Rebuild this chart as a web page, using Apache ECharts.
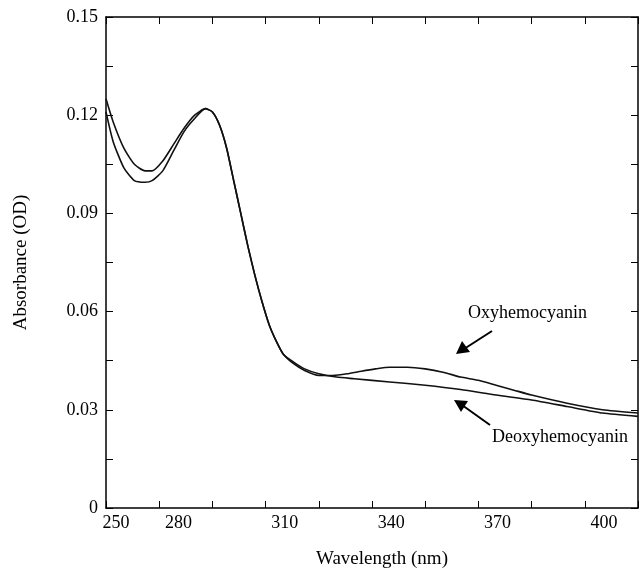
<!DOCTYPE html>
<html>
<head>
<meta charset="utf-8">
<script src="https://cdn.jsdelivr.net/npm/echarts@6/dist/echarts.min.js"></script>
<style>html,body{margin:0;background:#fff}#chart{width:642px;height:577px}</style>
</head>
<body>
<div id="chart"></div>
<script>
// wavelength (nm) / absorbance (OD)
const oxyWavelength = [250, 252, 255, 258, 261, 263, 266, 269, 272, 275, 278, 280, 282, 284, 286, 288, 290, 292, 294, 296, 298, 300, 303, 306, 310, 314, 318, 322, 326, 330, 335, 340, 345, 350, 355, 360, 365, 370, 380, 390, 400];
const oxyValues     = [0.125, 0.118, 0.110, 0.105, 0.103, 0.103, 0.106, 0.111, 0.116, 0.120, 0.122, 0.121, 0.117, 0.110, 0.100, 0.090, 0.080, 0.071, 0.063, 0.056, 0.051, 0.047, 0.044, 0.042, 0.0405, 0.0405, 0.041, 0.0418, 0.0425, 0.043, 0.043, 0.0425, 0.0415, 0.040, 0.039, 0.0375, 0.036, 0.0345, 0.032, 0.030, 0.029];
const deoxyWavelength = [250, 252, 255, 258, 261, 263, 266, 269, 272, 275, 278, 280, 282, 284, 286, 288, 290, 292, 294, 296, 298, 300, 303, 306, 310, 315, 320, 330, 340, 350, 360, 370, 380, 390, 400];
const deoxyValues     = [0.121, 0.112, 0.104, 0.100, 0.0995, 0.100, 0.103, 0.109, 0.115, 0.119, 0.122, 0.121, 0.117, 0.110, 0.100, 0.090, 0.080, 0.071, 0.063, 0.056, 0.051, 0.047, 0.0445, 0.0425, 0.041, 0.040, 0.0395, 0.0385, 0.0375, 0.0362, 0.0345, 0.033, 0.031, 0.029, 0.028];
const xLabels = [250, 280, 310, 340, 370, 400];
const yLabels = [0, 0.03, 0.06, 0.09, 0.12, 0.15];

const chart = echarts.init(document.getElementById('chart'));
const font = 'Liberation Serif';
const zip = (xs, ys) => xs.map((x, i) => [x, ys[i]]);
const lineStyle = { color: '#111', width: 1.6 };
const axisLine = { show: true, onZero: false, lineStyle: { color: '#000', width: 1.5 } };
const tick = { inside: true, length: 7, lineStyle: { color: '#000' } };

chart.setOption({
    animation: false,
    grid: { left: 106, right: 4, top: 17, bottom: 69 },
    xAxis: [{
        type: 'value', min: 250, max: 400, interval: 15,
        name: 'Wavelength (nm)', nameLocation: 'middle', nameGap: 42,
        nameTextStyle: { fontFamily: font, fontSize: 19, color: '#000', padding: [0, 0, 0, 20] },
        axisLine: axisLine, axisTick: tick, splitLine: { show: false },
        axisLabel: {
            margin: 6, showMaxLabel: true,
            formatter: v => xLabels.includes(Math.round(v)) ? (Math.round(v) === 250 ? '{a|250}' : '{b|' + Math.round(v) + '}') : '',
            rich: {
                a: { fontFamily: font, fontSize: 18, color: '#000', padding: [0, 0, 0, 20] },
                b: { fontFamily: font, fontSize: 18, color: '#000', padding: [0, 68, 0, 0] }
            }
        }
    }, {
        type: 'value', min: 250, max: 400, interval: 15, position: 'top',
        axisLine: axisLine, axisTick: tick, axisLabel: { show: false }, splitLine: { show: false }
    }],
    yAxis: [{
        type: 'value', min: 0, max: 0.15, interval: 0.015,
        name: 'Absorbance (OD)', nameLocation: 'middle', nameGap: 75,
        nameTextStyle: { fontFamily: font, fontSize: 19, color: '#000' },
        axisLine: axisLine, axisTick: tick, splitLine: { show: false },
        axisLabel: {
            fontFamily: font, fontSize: 18, color: '#000', margin: 8,
            formatter: v => {
                const r = Math.round(v * 1000) / 1000;
                return yLabels.includes(r) ? (r === 0 ? '0' : r.toFixed(2)) : '';
            }
        }
    }, {
        type: 'value', min: 0, max: 0.15, interval: 0.015, position: 'right',
        axisLine: axisLine, axisTick: tick, axisLabel: { show: false }, splitLine: { show: false }
    }],
    series: [
        { name: 'Oxyhemocyanin', type: 'line', data: zip(oxyWavelength, oxyValues), showSymbol: false, smooth: 0.2, lineStyle: lineStyle },
        { name: 'Deoxyhemocyanin', type: 'line', data: zip(deoxyWavelength, deoxyValues), showSymbol: false, smooth: 0.2, lineStyle: lineStyle }
    ],
    graphic: [
        { type: 'text', left: 468, top: 304, style: { text: 'Oxyhemocyanin', font: '18px "Liberation Serif"', fill: '#000' } },
        { type: 'line', shape: { x1: 492, y1: 331, x2: 464, y2: 349 }, style: { stroke: '#000', lineWidth: 2 } },
        { type: 'polygon', shape: { points: [[456, 354], [462, 341], [470, 352]] }, style: { fill: '#000' } },
        { type: 'text', left: 492, top: 428, style: { text: 'Deoxyhemocyanin', font: '18px "Liberation Serif"', fill: '#000' } },
        { type: 'line', shape: { x1: 490, y1: 425, x2: 462, y2: 405 }, style: { stroke: '#000', lineWidth: 2 } },
        { type: 'polygon', shape: { points: [[454, 400], [468, 401], [461, 412]] }, style: { fill: '#000' } }
    ]
});
</script>
</body>
</html>
